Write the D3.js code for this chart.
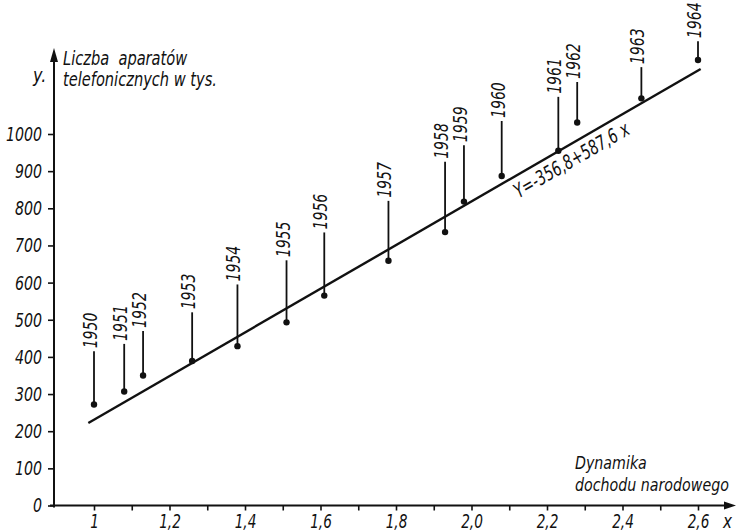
<!DOCTYPE html>
<html>
<head>
<meta charset="utf-8">
<script src="https://cdn.jsdelivr.net/npm/d3@7"></script>
<style>
  body { margin: 0; background: #fff; }
  svg text {
    font-family: "DejaVu Sans", sans-serif;
    font-style: italic;
    fill: #111;
  }
</style>
</head>
<body>
<svg id="chart" width="736" height="532"></svg>
<script>
// Telephone sets (thousands) against national income dynamics, 1950-1964
const years  = [1950, 1951, 1952, 1953, 1954, 1955, 1956, 1957, 1958, 1959, 1960, 1961, 1962, 1963, 1964];
const income = [1.00, 1.08, 1.13, 1.26, 1.38, 1.51, 1.61, 1.78, 1.93, 1.98, 2.08, 2.23, 2.28, 2.45, 2.60];
const phones = [272, 307, 350, 389, 429, 493, 565, 659, 736, 818, 887, 955, 1031, 1096, 1199];
// height (in thousands) where each year's leader line ends and its label begins
const labelLevel = [415, 435, 470, 520, 595, 660, 735, 820, 925, 970, 1035, 1100, 1140, 1180, 1250];

// fitted trend  y = a + b x
const intercept = -356.8;
const slope = 587.6;
const trendLabel = "Y=-356,8+587,6 x";
const trendRange = [0.985, 2.607];

const xTickValues = [1.0, 1.1, 1.2, 1.3, 1.4, 1.5, 1.6, 1.7, 1.8, 1.9, 2.0, 2.1, 2.2, 2.3, 2.4, 2.5, 2.6];
const xTickLabels = {1.0: "1", 1.2: "1,2", 1.4: "1,4", 1.6: "1,6", 1.8: "1,8", 2.0: "2,0", 2.2: "2,2", 2.4: "2,4", 2.6: "2,6"};
const yTickValues = [0, 100, 200, 300, 400, 500, 600, 700, 800, 900, 1000];

const yTitle = ["Liczba  aparatów", "telefonicznych w tys."];
const xTitle = ["Dynamika", "dochodu narodowego"];

const svg = d3.select("#chart");
const ink = "#111";

// narrow lettering: squeeze text horizontally about its own anchor point
function condense(sel, s) {
  sel.each(function () {
    const t = d3.select(this);
    const ax = +t.attr("x") || 0;
    const ay = +t.attr("y") || 0;
    const tr = t.attr("transform") || "";
    t.attr("transform", `${tr} translate(${ax},${ay}) scale(${s},1) translate(${-ax},${-ay})`);
  });
}

const x = d3.scaleLinear().domain([1, 2.6]).range([94, 698]);
const y = d3.scaleLinear().domain([0, 1000]).range([505.5, 134]);

const originX = 54, originY = y(0);

// ---- axes lines with arrowheads
svg.append("line")
  .attr("x1", 50).attr("x2", 728).attr("y1", originY).attr("y2", originY)
  .attr("stroke", ink).attr("stroke-width", 2);
svg.append("path")
  .attr("d", `M736,${originY} L724,${originY - 4} L724,${originY + 4} Z`)
  .attr("fill", ink);

svg.append("line")
  .attr("x1", originX).attr("x2", originX).attr("y1", originY + 2).attr("y2", 58)
  .attr("stroke", ink).attr("stroke-width", 2);
svg.append("path")
  .attr("d", `M${originX},48 L${originX - 4},62 L${originX + 4},62 Z`)
  .attr("fill", ink);

// ---- x axis ticks
const xAxis = d3.axisBottom(x)
  .tickValues(xTickValues)
  .tickSize(5)
  .tickPadding(4)
  .tickFormat(d => xTickLabels[Math.round(d * 10) / 10] || "");
const gx = svg.append("g")
  .attr("transform", `translate(0,${originY})`)
  .call(xAxis);
gx.attr("font-family", null).attr("font-size", null);
gx.select(".domain").remove();
gx.selectAll(".tick line").attr("stroke", ink).attr("stroke-width", 1.6);
gx.selectAll(".tick text")
  .attr("fill", ink)
  .attr("dy", null)
  .attr("y", 22.5)
  .style("font-size", "19px")
  .call(condense, 0.72);

// ---- y axis ticks
const yAxis = d3.axisLeft(y)
  .tickValues(yTickValues)
  .tickSize(6)
  .tickPadding(6)
  .tickFormat(d3.format("d"));
const gy = svg.append("g")
  .attr("transform", `translate(${originX},0)`)
  .call(yAxis);
gy.attr("font-family", null).attr("font-size", null);
gy.select(".domain").remove();
gy.selectAll(".tick line").attr("stroke", ink).attr("stroke-width", 1.6);
gy.selectAll(".tick text")
  .attr("fill", ink)
  .style("font-size", "20px")
  .call(condense, 0.71);

// ---- axis names
svg.append("text").attr("x", 33).attr("y", 82).style("font-size", "20px").text("y.")
  .call(condense, 0.8);
svg.append("text").attr("x", 723).attr("y", 528).style("font-size", "19px").text("x")
  .call(condense, 0.8);

svg.append("g").selectAll("text").data(yTitle).join("text")
  .attr("x", 63).attr("y", (d, i) => 65 + i * 21)
  .style("font-size", "19px").style("white-space", "pre")
  .text(d => d)
  .call(condense, 0.77);

svg.append("g").selectAll("text").data(xTitle).join("text")
  .attr("x", 575).attr("y", (d, i) => 469.5 + i * 22)
  .style("font-size", "18px")
  .text(d => d)
  .call(condense, 0.79);

// ---- regression line
const trend = d => intercept + slope * d;
svg.append("line")
  .attr("x1", x(trendRange[0])).attr("y1", y(trend(trendRange[0])))
  .attr("x2", x(trendRange[1])).attr("y2", y(trend(trendRange[1])))
  .attr("stroke", ink).attr("stroke-width", 2.4);

const angle = Math.atan2(y(trend(2.6)) - y(trend(1)), x(2.6) - x(1)) * 180 / Math.PI;
const eqAt = 2.097;
svg.append("text")
  .attr("transform", `translate(${x(eqAt)},${y(trend(eqAt))}) rotate(${angle}) translate(0,21) scale(0.7,1)`)
  .style("font-size", "20px")
  .text(trendLabel);

// ---- observations: dot, leader line, rotated year
const obs = years.map((yr, i) => ({ year: yr, inc: income[i], val: phones[i], top: labelLevel[i] }));

const g = svg.append("g");
g.selectAll("line.stem").data(obs).join("line")
  .attr("class", "stem")
  .attr("x1", d => x(d.inc)).attr("x2", d => x(d.inc))
  .attr("y1", d => y(d.val)).attr("y2", d => y(d.top))
  .attr("stroke", ink).attr("stroke-width", 1.8);

g.selectAll("circle").data(obs).join("circle")
  .attr("cx", d => x(d.inc)).attr("cy", d => y(d.val))
  .attr("r", 3.2).attr("fill", ink);

g.selectAll("text.year").data(obs).join("text")
  .attr("class", "year")
  .attr("transform", d => `translate(${x(d.inc) + 3},${y(d.top) - 3}) rotate(-90) scale(0.74,1)`)
  .style("font-size", "19px")
  .text(d => d.year);
</script>
</body>
</html>
